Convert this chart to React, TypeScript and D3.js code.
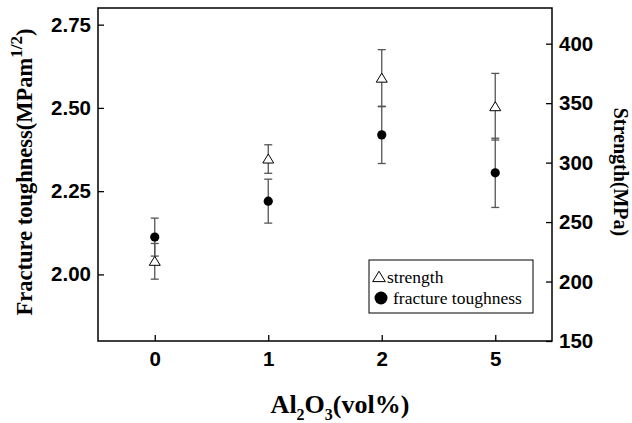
import React, { useEffect, useRef } from "react";
import * as d3 from "d3";

// Al2O3 content (vol%)
const categories = ["0", "1", "2", "5"];
// strength (MPa), right axis
const strength = [217, 303, 371, 347];
const strengthErr = [15, 12, 24, 28];
// fracture toughness (MPa m^1/2), left axis
const toughness = [2.112, 2.22, 2.419, 2.305];
const toughnessErr = [0.057, 0.066, 0.086, 0.104];

const leftTicks = [2.0, 2.25, 2.5, 2.75];
const rightTicks = [150, 200, 250, 300, 350, 400];

const W = 632;
const H = 423;
const margin = { top: 8, right: 80, bottom: 82, left: 98 };

const App = () => {
  const ref = useRef<SVGSVGElement>(null);

  useEffect(() => {
    const svg = d3.select(ref.current);
    svg.selectAll("*").remove();

    const x0 = margin.left;
    const x1 = W - margin.right;
    const y0 = H - margin.bottom;
    const y1 = margin.top;

    const x = d3.scalePoint().domain(categories).range([x0, x1]).padding(0.5);
    const yL = d3.scaleLinear().domain([1.8, 2.8]).range([y0, y1]);
    const yR = d3.scaleLinear().domain([150, 430]).range([y0, y1]);

    const tickFont = "'Liberation Sans', Arial, sans-serif";
    const serif = "'Liberation Serif', 'Times New Roman', serif";

    // frame
    svg
      .append("rect")
      .attr("x", x0)
      .attr("y", y1)
      .attr("width", x1 - x0)
      .attr("height", y0 - y1)
      .attr("fill", "none")
      .attr("stroke", "#000")
      .attr("stroke-width", 1.5);

    const styleAxis = (g) => {
      g.select(".domain").remove();
      g.selectAll("line").attr("stroke", "#000").attr("stroke-width", 1.3);
      g.selectAll("text")
        .attr("fill", "#000")
        .style("font-family", tickFont)
        .style("font-weight", "bold")
        .style("font-size", "20.5px");
    };

    svg
      .append("g")
      .attr("transform", `translate(${x0},0)`)
      .call(
        d3
          .axisLeft(yL)
          .tickValues(leftTicks)
          .tickFormat(d3.format(".2f"))
          .tickSizeInner(-6)
          .tickSizeOuter(0)
          .tickPadding(7)
      )
      .call(styleAxis);

    svg
      .append("g")
      .attr("transform", `translate(${x1},0)`)
      .call(
        d3
          .axisRight(yR)
          .tickValues(rightTicks)
          .tickSizeInner(-6)
          .tickSizeOuter(0)
          .tickPadding(7)
      )
      .call(styleAxis);

    svg
      .append("g")
      .attr("transform", `translate(0,${y0})`)
      .call(d3.axisBottom(x).tickSizeInner(-6).tickSizeOuter(0).tickPadding(10))
      .call(styleAxis);

    // error bars
    const cap = 4;
    const drawErr = (vals, errs, y) => {
      const g = svg.append("g").attr("stroke", "#555").attr("stroke-width", 1.3);
      categories.forEach((c, i) => {
        const cx = x(c);
        const top = y(vals[i] + errs[i]);
        const bot = y(vals[i] - errs[i]);
        g.append("line").attr("x1", cx).attr("x2", cx).attr("y1", top).attr("y2", bot);
        g.append("line").attr("x1", cx - cap).attr("x2", cx + cap).attr("y1", top).attr("y2", top);
        g.append("line").attr("x1", cx - cap).attr("x2", cx + cap).attr("y1", bot).attr("y2", bot);
      });
    };
    drawErr(strength, strengthErr, yR);
    drawErr(toughness, toughnessErr, yL);

    const tri = (cx, cy, s = 1) =>
      `M${cx},${cy - 5 * s}L${cx + 5.5 * s},${cy + 4 * s}L${cx - 5.5 * s},${cy + 4 * s}Z`;

    svg
      .append("g")
      .selectAll("path")
      .data(strength)
      .join("path")
      .attr("d", (d, i) => tri(x(categories[i]), yR(d)))
      .attr("fill", "#fff")
      .attr("stroke", "#000")
      .attr("stroke-width", 1);

    svg
      .append("g")
      .selectAll("circle")
      .data(toughness)
      .join("circle")
      .attr("cx", (d, i) => x(categories[i]))
      .attr("cy", (d) => yL(d))
      .attr("r", 4.6)
      .attr("fill", "#000");

    // legend
    const lg = svg.append("g");
    lg.append("rect")
      .attr("x", 369)
      .attr("y", 260)
      .attr("width", 164)
      .attr("height", 53)
      .attr("fill", "#fff")
      .attr("stroke", "#000")
      .attr("stroke-width", 1);
    lg.append("path").attr("d", tri(379, 277, 1.15)).attr("fill", "none").attr("stroke", "#000");
    lg.append("circle").attr("cx", 381).attr("cy", 298).attr("r", 6.5).attr("fill", "#000");
    lg.append("text")
      .attr("x", 387)
      .attr("y", 283)
      .style("font-family", serif)
      .style("font-size", "17.5px")
      .text("strength");
    lg.append("text")
      .attr("x", 393)
      .attr("y", 304)
      .style("font-family", serif)
      .style("font-size", "17.5px")
      .text("fracture toughness");

    // axis titles
    const lt = svg
      .append("text")
      .attr("transform", `translate(32,172) rotate(-90)`)
      .attr("text-anchor", "middle")
      .style("font-family", serif)
      .style("font-weight", "bold")
      .style("font-size", "22.5px");
    lt.append("tspan").text("Fracture toughness(MPam");
    lt.append("tspan").attr("dy", -10).style("font-size", "17px").text("1/2");
    lt.append("tspan").attr("dy", 10).text(")");

    svg
      .append("text")
      .attr("transform", `translate(614,172) rotate(90)`)
      .attr("text-anchor", "middle")
      .style("font-family", serif)
      .style("font-weight", "bold")
      .style("font-size", "20px")
      .text("Strength(MPa)");

    const xt = svg
      .append("text")
      .attr("x", (x0 + x1) / 2 + 15)
      .attr("y", 413)
      .attr("text-anchor", "middle")
      .style("font-family", serif)
      .style("font-weight", "bold")
      .style("font-size", "26px");
    xt.append("tspan").text("Al");
    xt.append("tspan").attr("dy", 7).style("font-size", "16px").text("2");
    xt.append("tspan").attr("dy", -7).text("O");
    xt.append("tspan").attr("dy", 7).style("font-size", "16px").text("3");
    xt.append("tspan").attr("dy", -7).text("(vol%)");
  }, []);

  return (
    <svg
      ref={ref}
      width={W}
      height={H}
      style={{ position: "absolute", left: 0, top: 0, background: "#fff" }}
    />
  );
};

export default App;
